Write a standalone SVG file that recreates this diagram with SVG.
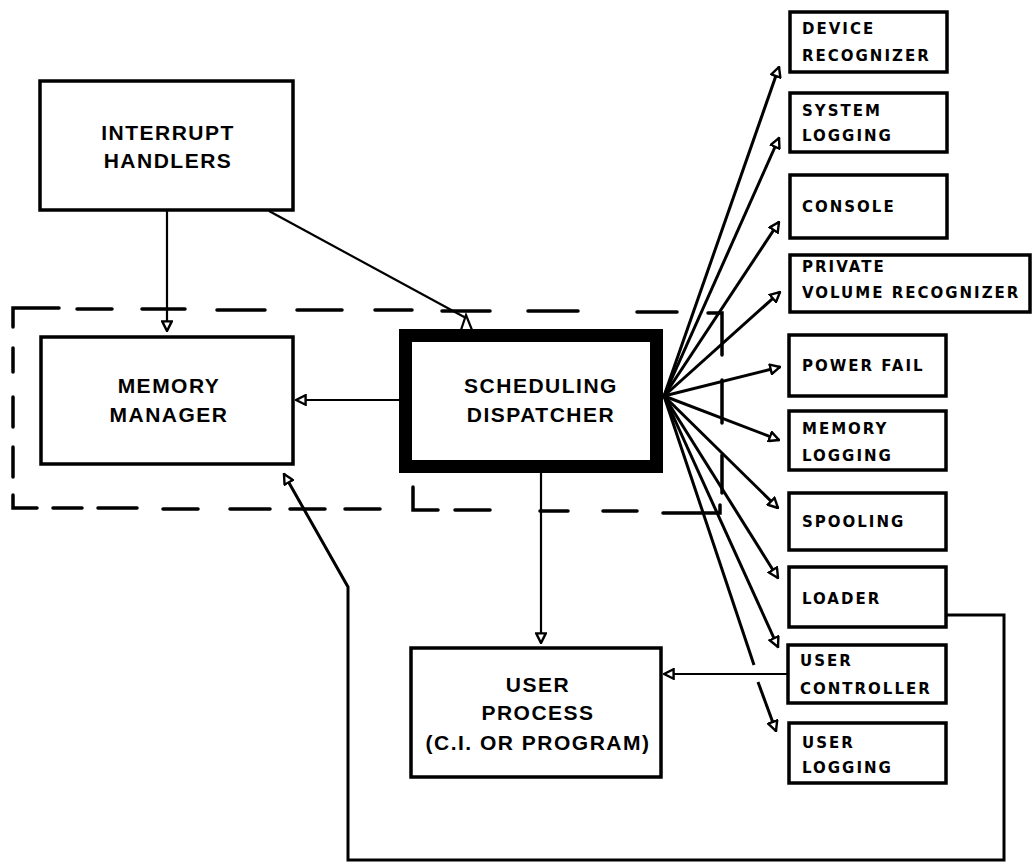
<svg xmlns="http://www.w3.org/2000/svg" width="1032" height="868" viewBox="0 0 1032 868">
<defs>
<style>
.box{fill:#fff;stroke:#000;stroke-width:3.5}
.big{font-family:"Liberation Sans",Arial,sans-serif;font-weight:bold;font-size:21px;letter-spacing:1.5px;text-anchor:middle;fill:#000}
.sm{font-family:"DejaVu Sans","Liberation Sans",sans-serif;font-weight:bold;font-size:15px;letter-spacing:2px;fill:#000}
.ln{fill:none;stroke:#000;stroke-width:2.2}
.fan{fill:none;stroke:#000;stroke-width:3;marker-end:url(#ah)}
.dsh{fill:none;stroke:#000;stroke-width:3.5;stroke-linecap:round}
</style>
<marker id="ah" viewBox="0 0 10 10" refX="9" refY="5" markerWidth="12" markerHeight="12" markerUnits="userSpaceOnUse" orient="auto">
<path d="M1,1 L9,5 L1,9 Z" fill="#fff" stroke="#000" stroke-width="2"/>
</marker>
</defs>
<rect width="1032" height="868" fill="#fff"/>

<g id="boundary">
<path class="dsh" d="M13,327 V308 H59 M77,309 H112 M142,309 H185 M217,310 H265 M297,310 H342 M375,310 H412 M442,311 H490 M528,311 H578 M637,312 H677 M708,313 H722 V355 M722,380 V423 M722,455 V493 M13,348 V372 M13,397 V427 M13,447 V477 M13,495 V508 H37 M53,508 H82 M98,508 H137 M163,509 H198 M230,509 H270 M290,509 H325 M345,509 H380 M413,487 V510 H438 M455,510 H490 M540,511 H568 M603,511 H637 M663,513 H720 V505"/>
</g>

<g id="connectors">
<path class="ln" d="M167,210 V331" marker-end="url(#ah)"/>
<path class="ln" d="M269,211 L466,318"/>
<polygon points="466,315 461,330 472,330" fill="#fff" stroke="#000" stroke-width="2.2"/>
<path class="ln" d="M399,400 H296" marker-end="url(#ah)"/>
<path class="ln" d="M541,473 V643" marker-end="url(#ah)"/>
<path class="ln" d="M788,674 H664" marker-end="url(#ah)"/>
<path class="ln" style="stroke-width:3" d="M946,615 H1004 V860 H348 V587 L284,474" marker-end="url(#ah)"/>
<path class="fan" d="M664,396 L779,67"/>
<path class="fan" d="M664,396 L779,138"/>
<path class="fan" d="M664,396 L779,222"/>
<path class="fan" d="M664,396 L780,292"/>
<path class="fan" d="M664,396 L780,367"/>
<path class="fan" d="M664,396 L779,440"/>
<path class="fan" d="M664,396 L778,508"/>
<path class="fan" d="M664,396 L778,578"/>
<path class="fan" d="M664,396 L778,647"/>
<path class="fan" style="marker-end:none" d="M664,396 L754,665"/>
<path class="fan" d="M758,682 L776,731"/>
</g>

<g id="interrupt-handlers">
<rect class="box" x="40" y="81" width="253" height="129"/>
<text class="big" x="168" y="140">INTERRUPT</text>
<text class="big" x="168" y="168">HANDLERS</text>
</g>

<g id="memory-manager">
<rect class="box" x="41" y="337" width="252" height="127"/>
<text class="big" x="169" y="393">MEMORY</text>
<text class="big" x="169" y="422">MANAGER</text>
</g>

<g id="scheduling-dispatcher">
<rect x="405.5" y="335.5" width="251" height="131" fill="#fff" stroke="#000" stroke-width="13"/>
<text class="big" x="541" y="393">SCHEDULING</text>
<text class="big" x="541" y="422">DISPATCHER</text>
</g>

<g id="user-process">
<rect class="box" x="411" y="648" width="250" height="129"/>
<text class="big" x="538" y="692">USER</text>
<text class="big" x="538" y="720">PROCESS</text>
<text class="big" x="538" y="750">(C.I. OR PROGRAM)</text>
</g>

<g id="device-recognizer">
<rect class="box" x="790" y="12" width="157" height="60"/>
<text class="sm" x="802" y="34">DEVICE</text>
<text class="sm" x="802" y="61">RECOGNIZER</text>
</g>

<g id="system-logging">
<rect class="box" x="790" y="93" width="157" height="59"/>
<text class="sm" x="802" y="116">SYSTEM</text>
<text class="sm" x="802" y="141">LOGGING</text>
</g>

<g id="console">
<rect class="box" x="790" y="175" width="157" height="63"/>
<text class="sm" x="802" y="212">CONSOLE</text>
</g>

<g id="private-volume-recognizer">
<rect class="box" x="790" y="255" width="240" height="57"/>
<text class="sm" x="802" y="272">PRIVATE</text>
<text class="sm" x="802" y="298">VOLUME RECOGNIZER</text>
</g>

<g id="power-fail">
<rect class="box" x="789" y="335" width="157" height="61"/>
<text class="sm" x="802" y="371">POWER FAIL</text>
</g>

<g id="memory-logging">
<rect class="box" x="789" y="411" width="157" height="59"/>
<text class="sm" x="802" y="434">MEMORY</text>
<text class="sm" x="802" y="461">LOGGING</text>
</g>

<g id="spooling">
<rect class="box" x="789" y="493" width="157" height="57"/>
<text class="sm" x="802" y="527">SPOOLING</text>
</g>

<g id="loader">
<rect class="box" x="789" y="567" width="157" height="60"/>
<text class="sm" x="802" y="604">LOADER</text>
</g>

<g id="user-controller">
<rect class="box" x="788" y="645" width="158" height="58"/>
<text class="sm" x="800" y="666">USER</text>
<text class="sm" x="800" y="694">CONTROLLER</text>
</g>

<g id="user-logging">
<rect class="box" x="789" y="723" width="157" height="60"/>
<text class="sm" x="802" y="748">USER</text>
<text class="sm" x="802" y="773">LOGGING</text>
</g>
</svg>
